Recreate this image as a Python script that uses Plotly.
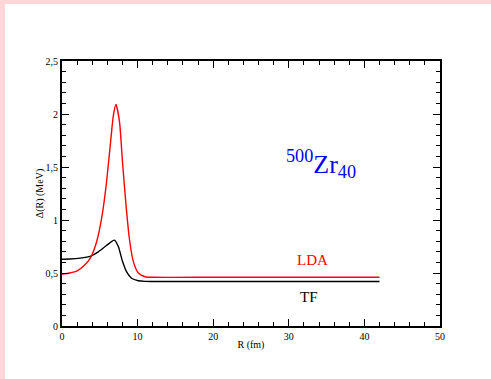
import plotly.graph_objects as go

# LDA curve (R in fm, Delta in MeV)
lda_r = [0, 1, 2, 3.0, 3.8, 4.6, 5.25, 5.8, 6.35, 6.8, 7.14, 7.6, 8.0, 8.47, 8.9, 9.43, 10.1, 11.0, 12.0, 20, 30, 42]
lda_d = [0.49, 0.50, 0.52, 0.575, 0.648, 0.80, 1.02, 1.30, 1.68, 1.99, 2.09, 1.93, 1.55, 1.14, 0.83, 0.61, 0.50, 0.465, 0.46, 0.46, 0.46, 0.46]

# TF curve
tf_r = [0, 1, 2.4, 3.8, 4.8, 5.9, 6.92, 7.45, 8.0, 8.55, 9.2, 10.1, 11.0, 12.0, 20, 30, 42]
tf_d = [0.63, 0.632, 0.64, 0.66, 0.70, 0.76, 0.81, 0.75, 0.61, 0.51, 0.45, 0.427, 0.421, 0.42, 0.42, 0.42, 0.42]

x_tickvals = [0, 10, 20, 30, 40, 50]
x_ticktext = ["0", "10", "20", "30", "40", "50"]
y_tickvals = [0, 0.5, 1, 1.5, 2, 2.5]
y_ticktext = ["0", "0,5", "1", "1,5", "2", "2,5"]

FONT = "Liberation Serif"

fig = go.Figure()
fig.add_trace(go.Scatter(x=tf_r, y=tf_d, mode="lines", line=dict(color="black", width=1.4, shape="spline", smoothing=0.6), showlegend=False))
fig.add_trace(go.Scatter(x=lda_r, y=lda_d, mode="lines", line=dict(color="#ff0000", width=1.4, shape="spline", smoothing=0.6), showlegend=False))

L, R, T, B = 62, 51, 61, 53
W, H = 491, 379
pw, ph = W - L - R, H - T - B

axis_common = dict(
    showgrid=False, zeroline=False, showline=True, linecolor="black", linewidth=2,
    mirror="ticks", ticks="inside", ticklen=7, tickwidth=1.2, tickcolor="black",
    tickfont=dict(family=FONT, size=10, color="black"),
)

fig.update_layout(
    width=W, height=H,
    margin=dict(l=L, r=R, t=T, b=B),
    paper_bgcolor="#ffd7d9",
    plot_bgcolor="white",
    font=dict(family=FONT, color="black"),
    xaxis=dict(range=[0, 50], tickvals=x_tickvals, ticktext=x_ticktext,
               minor=dict(dtick=2, ticks="inside", ticklen=4, tickwidth=1, tickcolor="black"),
               title=dict(text="R (fm)", font=dict(family=FONT, size=10), standoff=0),
               **axis_common),
    yaxis=dict(range=[0, 2.5], tickvals=y_tickvals, ticktext=y_ticktext,
               minor=dict(dtick=0.1, ticks="inside", ticklen=4, tickwidth=1, tickcolor="black"),
               title=dict(text="Δ(R) (MeV)", font=dict(family=FONT, size=10), standoff=0),
               **axis_common),
    shapes=[dict(type="rect", xref="paper", yref="paper", layer="below",
                 x0=(5 - L) / pw, x1=2, y0=-1, y1=(H - B - 4) / ph,
                 fillcolor="white", line=dict(width=0))],
    annotations=[
        dict(x=34.3, y=1.53, xref="x", yref="y", showarrow=False,
             text="<sup>500</sup>Zr<sub>40</sub>", font=dict(family=FONT, size=26, color="#0000ff")),
        dict(x=33.1, y=0.62, xref="x", yref="y", showarrow=False,
             text="LDA", font=dict(family=FONT, size=15, color="#ff0000")),
        dict(x=32.7, y=0.27, xref="x", yref="y", showarrow=False,
             text="TF", font=dict(family=FONT, size=15, color="black")),
    ],
)

fig.write_html("out.html")
